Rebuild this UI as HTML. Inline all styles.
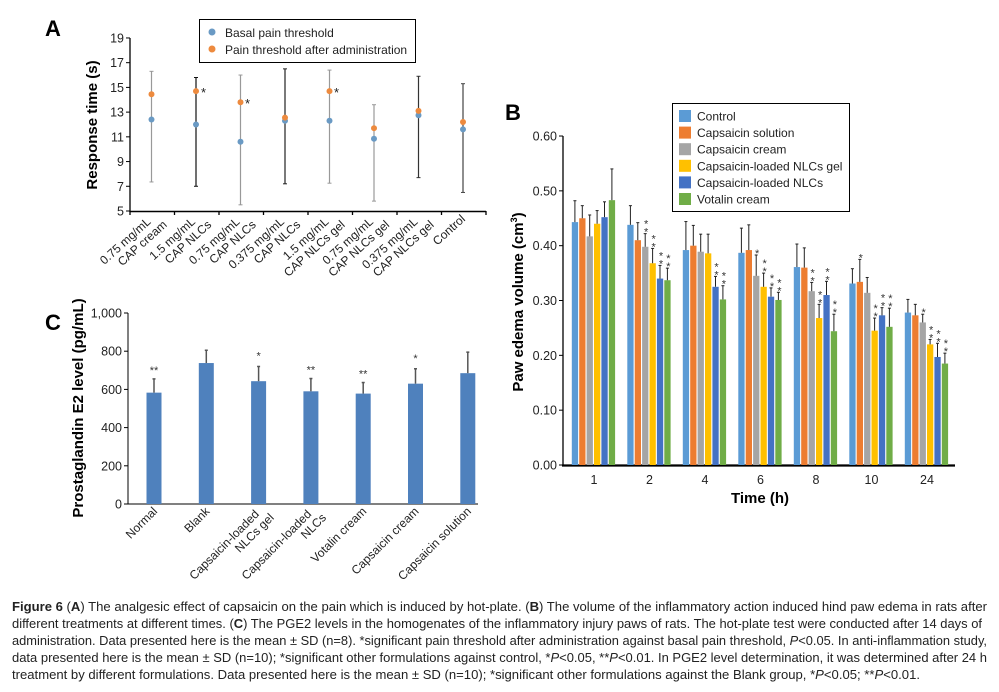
<!DOCTYPE html>
<html><head><meta charset="utf-8"><style>
body{margin:0;width:999px;height:692px;background:#fff;overflow:hidden;position:relative;font-family:"Liberation Sans",sans-serif}
svg{position:absolute;left:0;top:0}
</style></head><body>
<svg id="s" width="999" height="692" xmlns="http://www.w3.org/2000/svg" font-family="Liberation Sans, sans-serif">
<g font-size="12.5" fill="#222" lengthAdjust="spacingAndGlyphs">
<text x="12" y="611" textLength="975" lengthAdjust="spacingAndGlyphs"><tspan font-weight="bold">Figure 6</tspan> (<tspan font-weight="bold">A</tspan>) The analgesic effect of capsaicin on the pain which is induced by hot-plate. (<tspan font-weight="bold">B</tspan>) The volume of the inflammatory action induced hind paw edema in rats after</text>
<text x="12" y="628" textLength="970" lengthAdjust="spacingAndGlyphs">different treatments at different times. (<tspan font-weight="bold">C</tspan>) The PGE2 levels in the homogenates of the inflammatory injury paws of rats. The hot-plate test were conducted after 14 days of</text>
<text x="12" y="645" textLength="975" lengthAdjust="spacingAndGlyphs">administration. Data presented here is the mean ± SD (n=8). *significant pain threshold after administration against basal pain threshold, <tspan font-style="italic">P</tspan>&lt;0.05. In anti-inflammation study,</text>
<text x="12" y="662" textLength="975" lengthAdjust="spacingAndGlyphs">data presented here is the mean ± SD (n=10); *significant other formulations against control, *<tspan font-style="italic">P</tspan>&lt;0.05, **<tspan font-style="italic">P</tspan>&lt;0.01. In PGE2 level determination, it was determined after 24 h</text>
<text x="12" y="679" textLength="908" lengthAdjust="spacingAndGlyphs">treatment by different formulations. Data presented here is the mean ± SD (n=10); *significant other formulations against the Blank group, *<tspan font-style="italic">P</tspan>&lt;0.05; **<tspan font-style="italic">P</tspan>&lt;0.01.</text>
</g>
<g id="g"></g>
</svg>
<script>
var h='';
function L(x1,y1,x2,y2,c,w){h+='<line x1="'+x1+'" y1="'+y1+'" x2="'+x2+'" y2="'+y2+'" stroke="'+(c||'#000')+'" stroke-width="'+(w||1)+'"/>';}
function T(x,y,t,o){o=o||{};h+='<text x="'+x+'" y="'+y+'" font-size="'+(o.fs||12)+'"'+(o.a?' text-anchor="'+o.a+'"':'')+(o.b?' font-weight="bold"':'')+(o.tr?' transform="'+o.tr+'"':'')+' fill="'+(o.c||'#222')+'">'+t+'</text>';}
function R(x,y,w,hh,c,s){h+='<rect x="'+x+'" y="'+y+'" width="'+w+'" height="'+hh+'" fill="'+c+'"'+(s?' stroke="#000" stroke-width="1"':'')+'/>';}
function C(x,y,r,c){h+='<circle cx="'+x+'" cy="'+y+'" r="'+r+'" fill="'+c+'"/>';}
// ---- Panel A
T(45,36,'A',{fs:22,b:1,c:'#000'});
var ay=function(v){return 211-(v-5)*12.36;};
L(130,38,130,212,'#000',1.3);L(130,211.5,486,211.5,'#000',1.5);
for(var v=5;v<=19;v+=2){L(126,ay(v),130,ay(v),'#000');T(124,ay(v)+4.5,v,{fs:12.5,a:'end'});}
for(var i=0;i<=8;i++){var x=130+i*44.5;L(x,211,x,215,'#000',1.3);}
T(0,0,'Response time (s)',{fs:15,b:1,c:'#000',a:'middle',tr:'translate(97,125) rotate(-90)'});
R(199.5,19.5,216,43,'#fff',1);C(212,32,3.5,'#6a9ac4');C(212,49,3.5,'#ed8a3e');
T(225,37,'Basal pain threshold',{fs:12});T(225,54,'Pain threshold after administration',{fs:12});
var bas=[12.4,12.0,10.6,12.3,12.3,10.85,12.75,11.6],aft=[14.45,14.7,13.8,12.55,14.7,11.7,13.1,12.2];
var lo=[7.35,7.0,5.5,7.2,7.25,5.8,7.7,6.5],hi=[16.3,15.8,16.0,16.5,16.4,13.6,15.9,15.3];
var ec=['#999','#111','#999','#222','#999','#999','#333','#444'];
var l1=['0.75 mg/mL','1.5 mg/mL','0.75 mg/mL','0.375 mg/mL','1.5 mg/mL','0.75 mg/mL','0.375 mg/mL',''],l2=['CAP cream','CAP NLCs','CAP NLCs','CAP NLCs','CAP NLCs gel','CAP NLCs gel','CAP NLCs gel','Control'];
for(i=0;i<8;i++){var x=151.5+i*44.5;L(x,ay(lo[i]),x,ay(hi[i]),ec[i],1.2);L(x-2,ay(lo[i]),x+2,ay(lo[i]),ec[i]);L(x-2,ay(hi[i]),x+2,ay(hi[i]),ec[i]);
C(x,ay(bas[i]),3,'#6a9ac4');C(x,ay(aft[i]),3,'#ed8a3e');
var tr='translate('+(x+3)+',220) rotate(-42)';
if(l1[i]){T(0,0,l1[i],{fs:12,a:'end',tr:tr+' translate(-4,0)'});T(0,0,l2[i],{fs:12,a:'end',tr:tr+' translate(6,13)'});}
else T(0,0,l2[i],{fs:12,a:'end',tr:tr});}
T(201,97,'*',{fs:13});T(245,108,'*',{fs:13});T(334,97,'*',{fs:13});
// ---- Panel B
T(505,120,'B',{fs:22,b:1,c:'#000'});
var by=function(v){return 465-v*548.3;};
L(563,136,563,466,'#000',1.3);L(562,465.5,955,465.5,'#000',2.2);
for(var k=0;k<=6;k++){var yv=by(k*0.1);L(559,yv,563,yv,'#000');T(557,yv+4.5,(k*0.1).toFixed(2),{fs:12.5,a:'end'});}
T(0,0,'Paw edema volume (cm<tspan dy="-6" font-size="9">3</tspan><tspan dy="6">)</tspan>',{fs:15,b:1,c:'#000',a:'middle',tr:'translate(523,302) rotate(-90)'});
T(760,503,'Time (h)',{fs:15,b:1,c:'#000',a:'middle'});
var cols=['#5b9bd5','#ed7d31','#a5a5a5','#ffc000','#4472c4','#70ad47'];
var names=['Control','Capsaicin solution','Capsaicin cream','Capsaicin-loaded NLCs gel','Capsaicin-loaded NLCs','Votalin cream'];
var vals=[[.443,.450,.417,.440,.452,.483],[.438,.410,.398,.368,.340,.337],[.392,.400,.389,.386,.325,.302],[.387,.392,.345,.325,.307,.301],[.361,.360,.317,.268,.310,.244],[.331,.334,.314,.245,.273,.252],[.278,.273,.260,.220,.197,.185]];
var tops=[[.482,.473,.456,.464,.480,.540],[.473,.442,.422,.395,.364,.359],[.444,.437,.421,.421,.344,.327],[.432,.438,.383,.350,.323,.315],[.403,.396,.333,.293,.335,.275],[.358,.375,.342,.268,.287,.286],[.302,.293,.275,.229,.222,.204]];
var st=[[0,0,0,0,0,0],[0,0,2,2,2,2],[0,0,0,0,2,2],[0,0,1,2,2,2],[0,0,2,2,2,2],[0,1,0,2,2,2],[0,0,1,2,2,2]];
var gl=['1','2','4','6','8','10','24'];
for(var g=0;g<7;g++){var c0=594+g*55.5;T(c0,484,gl[g],{fs:12.5,a:'middle'});
for(var b=0;b<6;b++){var x0=c0-22.2+b*7.4;R(x0,by(vals[g][b]),6.3,465-by(vals[g][b]),cols[b]);
var xc=x0+3.1;L(xc,by(vals[g][b]),xc,by(tops[g][b]),'#222');L(xc-1.5,by(tops[g][b]),xc+1.5,by(tops[g][b]),'#222');
var n=st[g][b];for(var q=0;q<n;q++){T(xc+1,by(tops[g][b])-2-(n-1-q)*8+4,'*',{fs:11,a:'middle',c:'#333'});}
}}
R(672.5,103.5,177,108,'#fff',1);
for(b=0;b<6;b++){var yy=110+b*16.6;R(679,yy,12,12,cols[b]);T(697,yy+10.5,names[b],{fs:12});}
// ---- Panel C
T(45,330,'C',{fs:22,b:1,c:'#000'});
var cy=function(v){return 504-v*0.191;};
L(128,313,128,504,'#000',1);L(128,504,478,504,'#000',1);
var ct=['0','200','400','600','800','1,000'];
for(k=0;k<6;k++){var yv=cy(k*200);L(124,yv,128,yv,'#000');T(122,yv+4.5,ct[k],{fs:12.5,a:'end'});}
T(0,0,'Prostaglandin E2 level (pg/mL)',{fs:15,b:1,c:'#000',a:'middle',tr:'translate(83,408) rotate(-90)'});
var cv=[583,738,643,590,578,630,685],ctp=[655,805,720,657,636,708,795],cs=['**','','*','**','**','*',''];
var cl=[['Normal'],['Blank'],['Capsaicin-loaded','NLCs gel'],['Capsaicin-loaded','NLCs'],['Votalin cream'],['Capsaicin cream'],['Capsaicin solution']];
for(i=0;i<7;i++){var xc=154+i*52.3;R(xc-7.5,cy(cv[i]),15,504-cy(cv[i]),'#4f81bd');
L(xc,cy(cv[i]),xc,cy(ctp[i]),'#555',1.5);L(xc-1.5,cy(ctp[i]),xc+1.5,cy(ctp[i]),'#555',1.5);
if(cs[i])T(xc,cy(ctp[i])-5+(cs[i]=='*'?-2:0),cs[i],{fs:11,a:'middle',c:'#333'});
var tr='translate('+(xc+4)+',512) rotate(-45)';
if(cl[i].length==2){T(0,0,cl[i][0],{fs:12,a:'end',tr:tr+' translate(-4,0)'});T(0,0,cl[i][1],{fs:12,a:'end',tr:tr+' translate(4,13)'});}
else T(0,0,cl[i][0],{fs:12,a:'end',tr:tr});}
document.getElementById('g').innerHTML=h;
</script>
</body></html>
